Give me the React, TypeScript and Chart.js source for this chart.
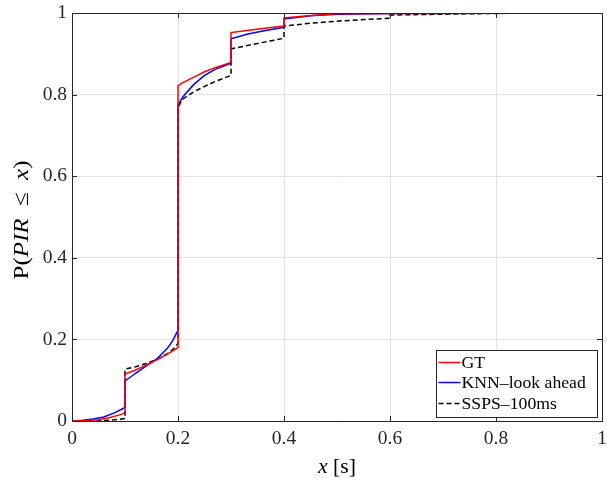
import { useEffect, useRef } from "react";
import { Chart, registerables } from "chart.js";

Chart.register(...registerables);

const gtX = [0, 0.03, 0.05, 0.07, 0.09, 0.1, 0.1, 0.12, 0.14, 0.16, 0.18, 0.2, 0.2, 0.21, 0.23, 0.25, 0.27, 0.3, 0.3, 0.33, 0.36, 0.4, 0.4, 0.45, 0.5, 0.6, 1];
const gtY = [0, 0.001, 0.003, 0.008, 0.015, 0.02, 0.115, 0.125, 0.137, 0.15, 0.164, 0.18, 0.822, 0.83, 0.843, 0.856, 0.866, 0.879, 0.952, 0.957, 0.962, 0.968, 0.988, 0.994, 0.998, 0.999, 1];

const knnX = [0, 0.02, 0.04, 0.06, 0.08, 0.1, 0.1, 0.12, 0.14, 0.16, 0.18, 0.19, 0.2, 0.2, 0.21, 0.23, 0.25, 0.27, 0.29, 0.3, 0.3, 0.33, 0.36, 0.4, 0.4, 0.45, 0.5, 0.6, 1];
const knnY = [0, 0.002, 0.005, 0.01, 0.02, 0.033, 0.098, 0.117, 0.135, 0.152, 0.178, 0.197, 0.222, 0.775, 0.796, 0.825, 0.847, 0.862, 0.872, 0.877, 0.937, 0.948, 0.956, 0.965, 0.985, 0.993, 0.997, 0.999, 1];

const sspsX = [0, 0.04, 0.06, 0.08, 0.1, 0.1, 0.12, 0.14, 0.16, 0.18, 0.19, 0.2, 0.2, 0.21, 0.23, 0.25, 0.27, 0.3, 0.3, 0.33, 0.36, 0.4, 0.4, 0.45, 0.5, 0.55, 0.6, 0.6, 0.7, 0.8, 1];
const sspsY = [0, 0, 0.001, 0.003, 0.006, 0.127, 0.133, 0.141, 0.151, 0.165, 0.175, 0.19, 0.77, 0.79, 0.807, 0.82, 0.832, 0.847, 0.912, 0.92, 0.928, 0.938, 0.968, 0.975, 0.98, 0.984, 0.987, 0.995, 0.997, 0.999, 1];

const seriesNames = ["GT", "KNN–look ahead", "SSPS–100ms"];
const seriesColors = ["#ff0000", "#0000ff", "#000000"];

const xTickValues = [0, 0.2, 0.4, 0.6, 0.8, 1];
const xTickLabels = ["0", "0.2", "0.4", "0.6", "0.8", "1"];
const yTickValues = [0, 0.2, 0.4, 0.6, 0.8, 1];
const yTickLabels = ["0", "0.2", "0.4", "0.6", "0.8", "1"];

const FONT = "'Liberation Serif', 'DejaVu Serif', serif";
const AXIS = "#262626";

function pts(xs: number[], ys: number[]) {
  return xs.map((x, i) => ({ x, y: ys[i] }));
}

function drawPieces(
  ctx: CanvasRenderingContext2D,
  pieces: [string, string][],
  cx: number,
  cy: number,
  target?: number
) {
  let total = 0;
  for (const [t, f] of pieces) {
    ctx.font = f;
    total += ctx.measureText(t).width;
  }
  ctx.save();
  ctx.translate(cx, cy);
  if (target) ctx.scale(target / total, 1);
  let x = -total / 2;
  ctx.textAlign = "left";
  ctx.textBaseline = "middle";
  for (const [t, f] of pieces) {
    ctx.font = f;
    ctx.fillText(t, x, 0);
    x += ctx.measureText(t).width;
  }
  ctx.restore();
}

const framePlugin = {
  id: "frame",
  afterDatasetsDraw(chart: any) {
    const ctx = chart.ctx as CanvasRenderingContext2D;
    const a = chart.chartArea;
    const xs = chart.scales.x;
    const ys = chart.scales.y;
    ctx.save();
    ctx.strokeStyle = AXIS;
    ctx.lineWidth = 1;
    ctx.beginPath();
    ctx.rect(Math.round(a.left) + 0.5, Math.round(a.top) + 0.5, Math.round(a.right - a.left), Math.round(a.bottom - a.top));
    ctx.stroke();
    const tl = 5;
    ctx.beginPath();
    for (const v of xTickValues) {
      const px = Math.round(xs.getPixelForValue(v)) + 0.5;
      ctx.moveTo(px, a.bottom);
      ctx.lineTo(px, a.bottom - tl);
      ctx.moveTo(px, a.top);
      ctx.lineTo(px, a.top + tl);
    }
    for (const v of yTickValues) {
      const py = Math.round(ys.getPixelForValue(v)) + 0.5;
      ctx.moveTo(a.left, py);
      ctx.lineTo(a.left + tl, py);
      ctx.moveTo(a.right, py);
      ctx.lineTo(a.right - tl, py);
    }
    ctx.stroke();

    // legend
    const bw = 161;
    const bh = 67;
    const bx = Math.round(a.right - 5 - bw) + 0.5;
    const by = Math.round(a.bottom - 4 - bh) + 0.5;
    ctx.fillStyle = "#ffffff";
    ctx.fillRect(bx, by, bw, bh);
    ctx.strokeStyle = AXIS;
    ctx.lineWidth = 1;
    ctx.strokeRect(bx, by, bw, bh);
    const rows = [12, 32, 53];
    ctx.font = `17.7px ${FONT}`;
    ctx.textAlign = "left";
    ctx.textBaseline = "middle";
    seriesNames.forEach((name, i) => {
      const ry = by + rows[i];
      ctx.strokeStyle = seriesColors[i];
      ctx.lineWidth = 1.5;
      ctx.setLineDash(i === 2 ? [5, 3] : []);
      ctx.beginPath();
      ctx.moveTo(bx + 2, ry);
      ctx.lineTo(bx + 24, ry);
      ctx.stroke();
      ctx.setLineDash([]);
      ctx.fillStyle = "#000000";
      ctx.fillText(name, bx + 25, ry + 1);
    });

    // axis titles
    ctx.fillStyle = "#000000";
    const cxm = (a.left + a.right) / 2;
    drawPieces(ctx, [["x", `italic 20px ${FONT}`], [" [s]", `20px ${FONT}`]], cxm, 468, 38);
    ctx.save();
    ctx.translate(22, (a.top + a.bottom) / 2 + 3);
    ctx.rotate(-Math.PI / 2);
    drawPieces(
      ctx,
      [
        ["P(", `22px ${FONT}`],
        ["PIR", `italic 22px ${FONT}`],
        ["  ≤  ", `22px ${FONT}`],
        ["x", `italic 22px ${FONT}`],
        [")", `22px ${FONT}`],
      ],
      0,
      0,
      119
    );
    ctx.restore();
    ctx.restore();
  },
};

function zeroPad(s: any) {
  s.paddingLeft = 0;
  s.paddingRight = 0;
  s.paddingTop = 0;
  s.paddingBottom = 0;
}

export default function App() {
  const ref = useRef<HTMLCanvasElement | null>(null);
  useEffect(() => {
    document.body.style.margin = "0";
    const canvas = ref.current;
    if (!canvas) return;
    const ds = [
      [gtX, gtY],
      [knnX, knnY],
      [sspsX, sspsY],
    ].map(([xs, ys], i) => ({
      label: seriesNames[i],
      data: pts(xs, ys),
      borderColor: seriesColors[i],
      backgroundColor: seriesColors[i],
      borderWidth: 1.5,
      borderDash: i === 2 ? [5, 3] : [],
      pointRadius: 0,
      fill: false,
      tension: 0,
    }));
    const tickFont = { family: FONT, size: 19.5 };
    const chart = new Chart(canvas, {
      type: "line",
      data: { datasets: ds as any },
      options: {
        responsive: false,
        animation: false,
        events: [],
        layout: { padding: { left: 0, right: 5, top: 13, bottom: 0 } },
        plugins: { legend: { display: false }, tooltip: { enabled: false } },
        scales: {
          x: {
            type: "linear",
            min: 0,
            max: 1,
            afterBuildTicks: (s: any) => {
              s.ticks = xTickValues.map((v) => ({ value: v }));
            },
            afterFit: (s: any) => {
              s.height = 60;
              zeroPad(s);
            },
            ticks: {
              font: tickFont,
              color: AXIS,
              padding: 6,
              maxRotation: 0,
              autoSkip: false,
              callback: (_v: any, i: number) => xTickLabels[i],
            },
            grid: { color: "#e2e2e2", drawTicks: false },
            border: { color: AXIS, width: 1 },
          },
          y: {
            type: "linear",
            min: 0,
            max: 1,
            afterBuildTicks: (s: any) => {
              s.ticks = yTickValues.map((v) => ({ value: v }));
            },
            afterFit: (s: any) => {
              s.width = 72;
              zeroPad(s);
            },
            ticks: {
              font: tickFont,
              color: AXIS,
              padding: 5,
              autoSkip: false,
              callback: (_v: any, i: number) => yTickLabels[i],
            },
            grid: { color: "#e2e2e2", drawTicks: false },
            border: { color: AXIS, width: 1 },
          },
        },
      },
      plugins: [framePlugin],
    });
    return () => chart.destroy();
  }, []);
  return <canvas ref={ref} width={607} height={481} style={{ display: "block" }} />;
}
